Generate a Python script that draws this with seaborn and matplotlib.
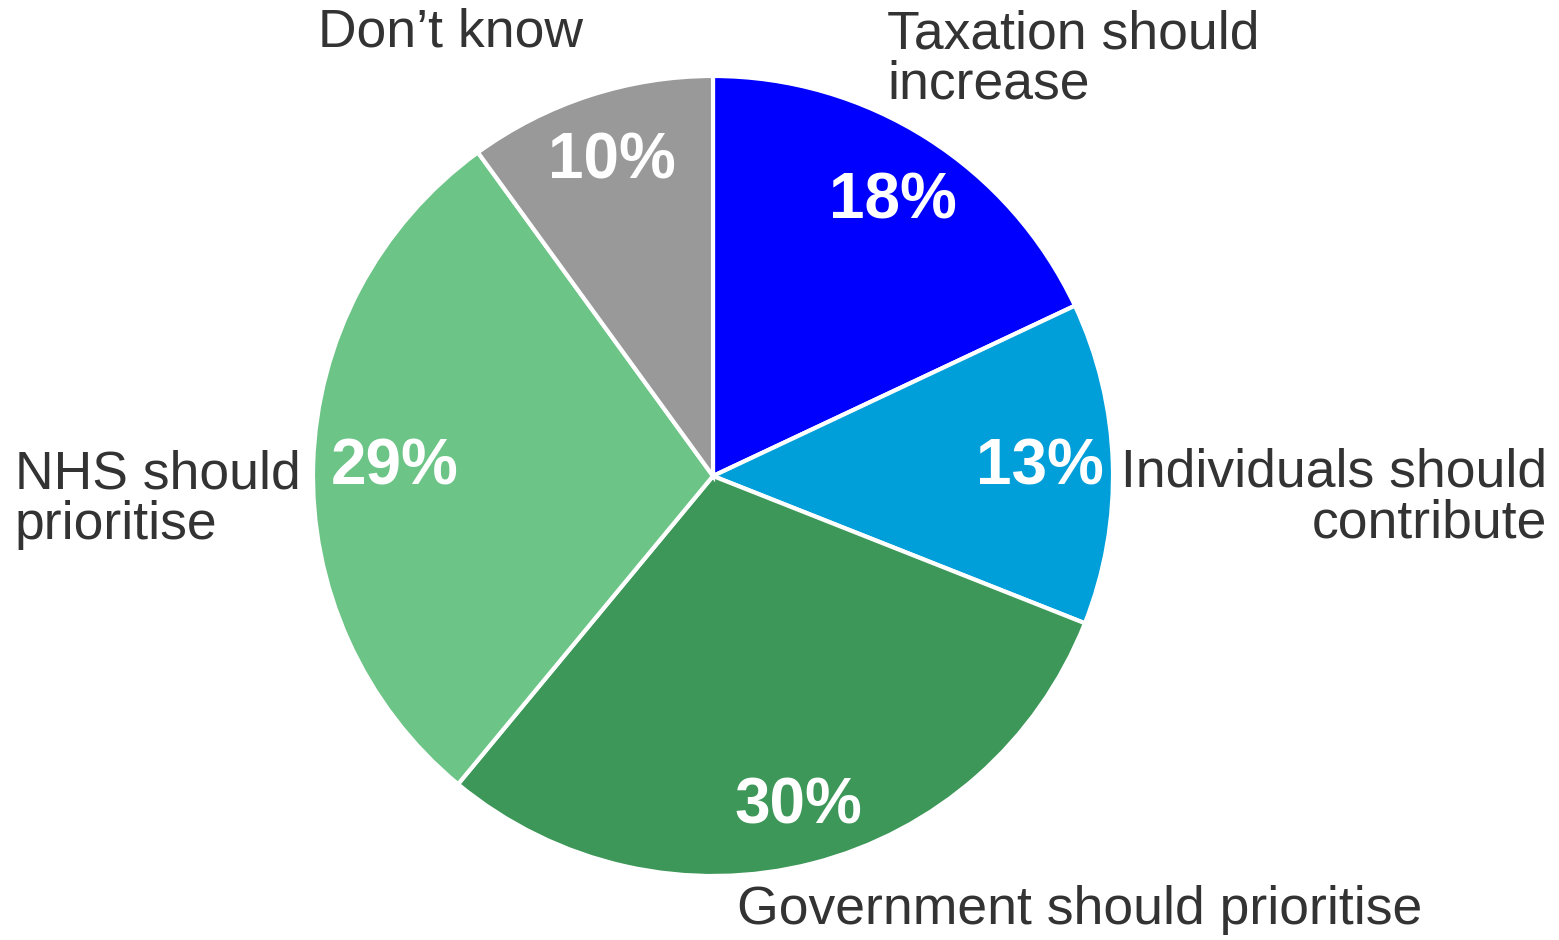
import matplotlib
matplotlib.use("Agg")
import matplotlib.pyplot as plt
import seaborn as sns

categories = ["Taxation should\nincrease", "Individuals should\ncontribute",
              "Government should prioritise", "NHS should\nprioritise", "Don\u2019t know"]
values = [18, 13, 30, 29, 10]
colors = ["#0000FF", "#009FD9", "#3D9758", "#6CC486", "#999999"]

sns.set_theme(style="white")
plt.rcParams['font.family'] = ['Liberation Sans', 'DejaVu Sans']

fig = plt.figure(figsize=(15.59, 9.4), dpi=100)
ax = fig.add_axes([0, 0, 1, 1])

wedges, _ = ax.pie(values, colors=colors, startangle=90, counterclock=False,
                   radius=1.0, wedgeprops=dict(edgecolor="white", linewidth=3))

# percentage label positions (pie units)
pct_pos = [(0.45, 0.685), (0.8175, 0.02), (0.2125, -0.825), (-0.795, 0.02), (-0.2525, 0.785)]
for v, (x, y) in zip(values, pct_pos):
    ax.text(x, y, f"{v}%", color="white", fontsize=46, fontweight="bold",
            ha="center", va="center")

# category label positions
lab_pos = [(0.435, 1.04, "left"), (2.085, -0.055, "right"), (0.06, -1.085, "left"),
           (-1.745, -0.06, "left"), (-0.9875, 1.1075, "left")]
for lab, (x, y, ha) in zip(categories, lab_pos):
    ax.text(x, y, lab, color="#333333", fontsize=38.5, ha=ha, va="center",
            multialignment=ha, linespacing=1.0)

ax.set_aspect("auto")
ax.set_xlim(-1.7825, 2.115)
ax.set_ylim(-1.16, 1.19)
ax.axis("off")

fig.savefig("out.png", dpi=100, facecolor="white")
